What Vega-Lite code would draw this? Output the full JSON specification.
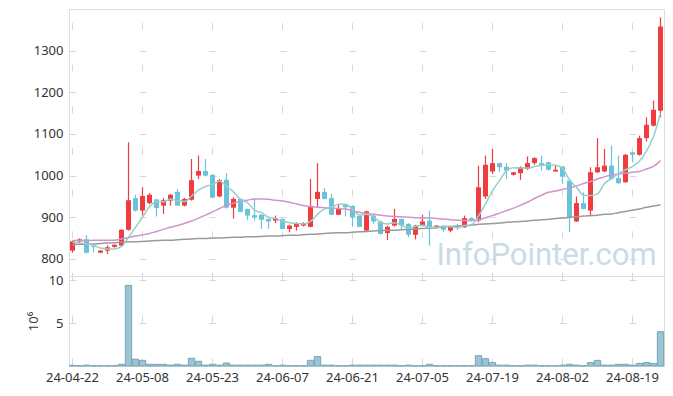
{
  "$schema": "https://vega.github.io/schema/vega-lite/v6.json",
  "padding": {"left": 26, "top": 8, "right": 9, "bottom": 5},
  "background": "white",
  "spacing": 0,
  "bounds": "flush",
  "config": {
    "view": {"stroke": "#dddddd"},
    "axis": {"labelFont": "Noto Sans", "labelFontSize": 13, "labelColor": "#333333", "titleFont": "Noto Sans", "titleFontSize": 13, "titleFontWeight": "normal", "titleColor": "#333333", "gridColor": "#d8d8d8", "gridWidth": 1},
    "axisY": {"ticks": false, "domain": false, "grid": true, "gridDash": [7, 63], "gridDashOffset": 0, "labelPadding": 6, "format": "d"},
    "axisX": {"ticks": false, "domain": false, "grid": true, "labelAngle": 0, "bandPosition": 0.5}
  },
  "datasets": {
    "s": [
      {"d":"24-04-22","o":820,"h":844,"l":815,"c":842,"v":0.08,"m5":840,"m20":844,"m60":834},
      {"d":"24-04-23","o":842,"h":849,"l":838,"c":847,"v":0.03,"m5":838,"m20":844,"m60":835},
      {"d":"24-04-24","o":847,"h":857,"l":813,"c":815,"v":0.1,"m5":836,"m20":844,"m60":836},
      {"d":"24-04-25","o":831,"h":831,"l":816,"c":829,"v":0.03,"m5":833,"m20":845,"m60":836},
      {"d":"24-04-26","o":815,"h":821,"l":814,"c":820,"v":0.03,"m5":826,"m20":845,"m60":837},
      {"d":"24-04-29","o":820,"h":833,"l":812,"c":828,"v":0.03,"m5":824,"m20":845,"m60":838},
      {"d":"24-04-30","o":829,"h":835,"l":827,"c":834,"v":0.05,"m5":824,"m20":845,"m60":839},
      {"d":"24-05-02","o":832,"h":871,"l":830,"c":870,"v":0.2,"m5":830,"m20":848,"m60":840},
      {"d":"24-05-03","o":870,"h":1080,"l":868,"c":941,"v":9.4,"m5":852,"m20":851,"m60":841},
      {"d":"24-05-07","o":946,"h":954,"l":914,"c":916,"v":0.8,"m5":876,"m20":855,"m60":841},
      {"d":"24-05-08","o":916,"h":972,"l":904,"c":951,"v":0.66,"m5":900,"m20":858,"m60":842},
      {"d":"24-05-09","o":934,"h":958,"l":931,"c":954,"v":0.2,"m5":925,"m20":861,"m60":843},
      {"d":"24-05-10","o":943,"h":944,"l":902,"c":922,"v":0.2,"m5":937,"m20":866,"m60":844},
      {"d":"24-05-13","o":928,"h":946,"l":908,"c":941,"v":0.2,"m5":937,"m20":871,"m60":845},
      {"d":"24-05-14","o":940,"h":956,"l":928,"c":954,"v":0.1,"m5":944,"m20":876,"m60":845},
      {"d":"24-05-16","o":961,"h":968,"l":927,"c":928,"v":0.2,"m5":940,"m20":880,"m60":846},
      {"d":"24-05-17","o":928,"h":946,"l":926,"c":944,"v":0.1,"m5":938,"m20":885,"m60":847},
      {"d":"24-05-20","o":942,"h":1040,"l":940,"c":989,"v":0.9,"m5":951,"m20":891,"m60":848},
      {"d":"24-05-21","o":1000,"h":1048,"l":992,"c":1011,"v":0.55,"m5":965,"m20":898,"m60":849},
      {"d":"24-05-22","o":1011,"h":1040,"l":998,"c":1000,"v":0.1,"m5":974,"m20":905,"m60":849},
      {"d":"24-05-23","o":1002,"h":1003,"l":946,"c":947,"v":0.2,"m5":978,"m20":913,"m60":850},
      {"d":"24-05-24","o":950,"h":992,"l":948,"c":989,"v":0.1,"m5":987,"m20":921,"m60":850},
      {"d":"24-05-27","o":990,"h":1006,"l":921,"c":923,"v":0.35,"m5":974,"m20":929,"m60":851},
      {"d":"24-05-28","o":923,"h":948,"l":897,"c":944,"v":0.1,"m5":961,"m20":934,"m60":852},
      {"d":"24-05-29","o":944,"h":946,"l":912,"c":913,"v":0.1,"m5":943,"m20":939,"m60":852},
      {"d":"24-05-30","o":920,"h":921,"l":893,"c":904,"v":0.1,"m5":935,"m20":941,"m60":853},
      {"d":"24-05-31","o":905,"h":946,"l":893,"c":899,"v":0.1,"m5":917,"m20":944,"m60":853},
      {"d":"24-06-03","o":906,"h":907,"l":872,"c":894,"v":0.1,"m5":911,"m20":944,"m60":854},
      {"d":"24-06-04","o":896,"h":897,"l":872,"c":890,"v":0.2,"m5":900,"m20":943,"m60":855},
      {"d":"24-06-05","o":892,"h":904,"l":886,"c":898,"v":0.03,"m5":897,"m20":941,"m60":855},
      {"d":"24-06-07","o":896,"h":897,"l":871,"c":872,"v":0.1,"m5":891,"m20":939,"m60":856},
      {"d":"24-06-10","o":872,"h":882,"l":864,"c":880,"v":0.03,"m5":887,"m20":936,"m60":857},
      {"d":"24-06-11","o":877,"h":888,"l":868,"c":885,"v":0.03,"m5":885,"m20":932,"m60":857},
      {"d":"24-06-12","o":880,"h":888,"l":878,"c":886,"v":0.03,"m5":884,"m20":928,"m60":858},
      {"d":"24-06-13","o":877,"h":992,"l":876,"c":925,"v":0.66,"m5":890,"m20":926,"m60":859},
      {"d":"24-06-14","o":944,"h":1030,"l":924,"c":961,"v":1.1,"m5":907,"m20":924,"m60":860},
      {"d":"24-06-17","o":961,"h":970,"l":943,"c":944,"v":0.1,"m5":920,"m20":923,"m60":861},
      {"d":"24-06-18","o":946,"h":956,"l":905,"c":906,"v":0.1,"m5":924,"m20":922,"m60":862},
      {"d":"24-06-19","o":906,"h":932,"l":905,"c":920,"v":0.03,"m5":931,"m20":921,"m60":863},
      {"d":"24-06-20","o":930,"h":932,"l":902,"c":924,"v":0.03,"m5":931,"m20":920,"m60":863},
      {"d":"24-06-21","o":927,"h":929,"l":878,"c":900,"v":0.1,"m5":919,"m20":916,"m60":864},
      {"d":"24-06-24","o":903,"h":905,"l":876,"c":877,"v":0.1,"m5":905,"m20":912,"m60":865},
      {"d":"24-06-25","o":868,"h":916,"l":864,"c":914,"v":0.1,"m5":907,"m20":909,"m60":866},
      {"d":"24-06-26","o":904,"h":906,"l":884,"c":890,"v":0.1,"m5":901,"m20":907,"m60":867},
      {"d":"24-06-27","o":890,"h":892,"l":858,"c":860,"v":0.1,"m5":888,"m20":905,"m60":868},
      {"d":"24-06-28","o":862,"h":880,"l":845,"c":877,"v":0.1,"m5":884,"m20":903,"m60":869},
      {"d":"24-07-01","o":880,"h":920,"l":878,"c":896,"v":0.1,"m5":887,"m20":902,"m60":869},
      {"d":"24-07-02","o":896,"h":897,"l":872,"c":880,"v":0.03,"m5":881,"m20":901,"m60":870},
      {"d":"24-07-03","o":884,"h":886,"l":852,"c":858,"v":0.1,"m5":874,"m20":900,"m60":871},
      {"d":"24-07-04","o":858,"h":882,"l":847,"c":880,"v":0.03,"m5":878,"m20":899,"m60":872},
      {"d":"24-07-05","o":880,"h":906,"l":878,"c":890,"v":0.03,"m5":881,"m20":898,"m60":873},
      {"d":"24-07-08","o":892,"h":916,"l":832,"c":873,"v":0.2,"m5":876,"m20":898,"m60":874},
      {"d":"24-07-09","o":875,"h":881,"l":872,"c":880,"v":0.03,"m5":876,"m20":897,"m60":875},
      {"d":"24-07-10","o":876,"h":877,"l":865,"c":870,"v":0.03,"m5":879,"m20":896,"m60":877},
      {"d":"24-07-11","o":868,"h":879,"l":864,"c":878,"v":0.03,"m5":878,"m20":894,"m60":878},
      {"d":"24-07-12","o":878,"h":884,"l":870,"c":874,"v":0.03,"m5":875,"m20":893,"m60":879},
      {"d":"24-07-15","o":876,"h":904,"l":875,"c":898,"v":0.03,"m5":880,"m20":892,"m60":880},
      {"d":"24-07-16","o":898,"h":900,"l":890,"c":892,"v":0.03,"m5":882,"m20":892,"m60":881},
      {"d":"24-07-17","o":892,"h":1024,"l":888,"c":972,"v":1.2,"m5":903,"m20":894,"m60":883},
      {"d":"24-07-18","o":950,"h":1048,"l":944,"c":1026,"v":0.86,"m5":932,"m20":899,"m60":884},
      {"d":"24-07-19","o":1010,"h":1064,"l":1004,"c":1030,"v":0.4,"m5":964,"m20":904,"m60":885},
      {"d":"24-07-22","o":1030,"h":1031,"l":1009,"c":1020,"v":0.1,"m5":988,"m20":910,"m60":886},
      {"d":"24-07-23","o":1021,"h":1030,"l":992,"c":1012,"v":0.1,"m5":1012,"m20":916,"m60":888},
      {"d":"24-07-24","o":1002,"h":1009,"l":1000,"c":1008,"v":0.03,"m5":1019,"m20":922,"m60":889},
      {"d":"24-07-25","o":1006,"h":1022,"l":990,"c":1020,"v":0.03,"m5":1018,"m20":929,"m60":890},
      {"d":"24-07-26","o":1016,"h":1046,"l":1014,"c":1030,"v":0.1,"m5":1018,"m20":936,"m60":891},
      {"d":"24-07-29","o":1030,"h":1044,"l":1026,"c":1042,"v":0.1,"m5":1022,"m20":945,"m60":893},
      {"d":"24-07-30","o":1030,"h":1048,"l":1012,"c":1024,"v":0.03,"m5":1025,"m20":953,"m60":894},
      {"d":"24-07-31","o":1032,"h":1033,"l":1012,"c":1014,"v":0.03,"m5":1026,"m20":960,"m60":895},
      {"d":"24-08-01","o":1010,"h":1024,"l":1009,"c":1014,"v":0.03,"m5":1025,"m20":963,"m60":897},
      {"d":"24-08-02","o":1022,"h":1023,"l":980,"c":998,"v":0.1,"m5":1018,"m20":967,"m60":898},
      {"d":"24-08-05","o":988,"h":992,"l":864,"c":898,"v":0.2,"m5":990,"m20":971,"m60":900},
      {"d":"24-08-06","o":890,"h":950,"l":889,"c":934,"v":0.1,"m5":972,"m20":975,"m60":901},
      {"d":"24-08-07","o":934,"h":960,"l":919,"c":920,"v":0.03,"m5":953,"m20":981,"m60":903},
      {"d":"24-08-08","o":916,"h":1020,"l":902,"c":1008,"v":0.4,"m5":952,"m20":986,"m60":904},
      {"d":"24-08-09","o":1008,"h":1090,"l":1006,"c":1020,"v":0.66,"m5":956,"m20":992,"m60":905},
      {"d":"24-08-12","o":1010,"h":1064,"l":1008,"c":1024,"v":0.1,"m5":981,"m20":997,"m60":907},
      {"d":"24-08-13","o":1024,"h":1072,"l":990,"c":992,"v":0.1,"m5":993,"m20":1002,"m60":908},
      {"d":"24-08-14","o":994,"h":1048,"l":980,"c":982,"v":0.2,"m5":1005,"m20":1004,"m60":911},
      {"d":"24-08-16","o":984,"h":1052,"l":983,"c":1050,"v":0.2,"m5":1014,"m20":1006,"m60":914},
      {"d":"24-08-19","o":1056,"h":1057,"l":1032,"c":1050,"v":0.1,"m5":1022,"m20":1008,"m60":917},
      {"d":"24-08-20","o":1050,"h":1096,"l":1048,"c":1090,"v":0.3,"m5":1035,"m20":1010,"m60":920},
      {"d":"24-08-21","o":1090,"h":1140,"l":1082,"c":1122,"v":0.4,"m5":1059,"m20":1016,"m60":924},
      {"d":"24-08-22","o":1120,"h":1180,"l":1118,"c":1158,"v":0.3,"m5":1094,"m20":1022,"m60":927},
      {"d":"24-08-23","o":1156,"h":1380,"l":1140,"c":1358,"v":4.0,"m5":1150,"m20":1036,"m60":930}
    ]
  },
  "vconcat": [
    {
      "width": 595,
      "height": 267,
      "encoding": {
        "x": {
          "field": "d", "type": "ordinal", "title": null,
          "scale": {"paddingInner": 0, "paddingOuter": 0},
          "axis": {"labels": false, "minExtent": 0, "maxExtent": 0, "labelPadding": 0, "values": ["24-04-22","24-05-08","24-05-23","24-06-07","24-06-21","24-07-05","24-07-19","24-08-02","24-08-19"], "gridDash": [7, 34.65], "gridDashOffset": 28.15}
        }
      },
      "layer": [
        {
          "data": {"name": "s"},
          "mark": {"type": "rule", "strokeWidth": 1.2},
          "encoding": {
            "y": {"field": "l", "type": "quantitative", "title": null, "scale": {"domain": [759, 1400], "nice": false, "zero": false}, "axis": {"values": [800, 900, 1000, 1100, 1200, 1300]}},
            "y2": {"field": "h"},
            "color": {"condition": {"test": "datum.c >= datum.o", "value": "#f03c3f"}, "value": "#6cc3d9"}
          }
        },
        {
          "data": {"name": "s"},
          "mark": {"type": "bar", "width": {"band": 0.72}},
          "encoding": {
            "y": {"field": "o", "type": "quantitative", "title": null},
            "y2": {"field": "c"},
            "color": {"condition": {"test": "datum.c >= datum.o", "value": "#f03c3f"}, "value": "#6cc3d9"}
          }
        },
        {
          "data": {"name": "s"},
          "mark": {"type": "line", "interpolate": "monotone", "color": "#9a9a9a", "strokeWidth": 1.5},
          "encoding": {"y": {"field": "m60", "type": "quantitative", "title": null}}
        },
        {
          "data": {"name": "s"},
          "mark": {"type": "line", "interpolate": "monotone", "color": "#d094cc", "strokeWidth": 1.5},
          "encoding": {"y": {"field": "m20", "type": "quantitative", "title": null}}
        },
        {
          "data": {"name": "s"},
          "mark": {"type": "line", "interpolate": "monotone", "color": "#95d0ca", "strokeWidth": 1.5},
          "encoding": {"y": {"field": "m5", "type": "quantitative", "title": null}}
        },
        {
          "data": {"values": [{"d": "24-07-31", "p": 786, "t": "InfoPointer.com"}]},
          "mark": {"type": "text", "font": "Roboto", "fontSize": 31, "color": "#c8dce6", "align": "center", "baseline": "alphabetic", "dx": -2},
          "encoding": {
            "y": {"field": "p", "type": "quantitative", "title": null},
            "text": {"field": "t"}
          }
        }
      ]
    },
    {
      "width": 595,
      "height": 90,
      "data": {"name": "s"},
      "mark": {"type": "bar", "width": {"band": 0.9}, "fill": "#9dc4d3", "stroke": "#74a5ba", "strokeWidth": 1},
      "encoding": {
        "x": {
          "field": "d", "type": "ordinal", "title": null,
          "scale": {"paddingInner": 0, "paddingOuter": 0},
          "axis": {"values": ["24-04-22","24-05-08","24-05-23","24-06-07","24-06-21","24-07-05","24-07-19","24-08-02","24-08-19"], "gridDash": [7, 35.85], "gridDashOffset": 3.5, "labelPadding": 5}
        },
        "y": {
          "field": "v", "type": "quantitative", "title": "10⁶",
          "scale": {"domain": [0, 10.5], "nice": false},
          "axis": {"values": [5, 10], "titlePadding": 8}
        }
      }
    }
  ]
}
